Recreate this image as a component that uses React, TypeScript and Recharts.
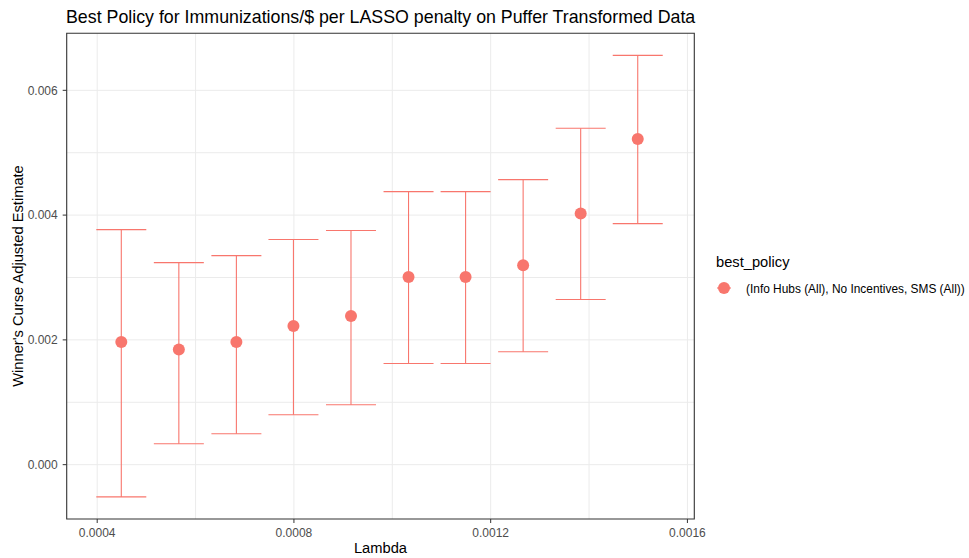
import React from 'react';
import { ComposedChart, Scatter, XAxis, YAxis, CartesianGrid, ErrorBar, ReferenceArea } from 'recharts';

const lambdas = [0.000449, 0.000566, 0.000683, 0.000799, 0.000916, 0.001033, 0.001149, 0.001266, 0.001383, 0.001499];
const estimates = [0.001965, 0.001846, 0.001965, 0.002221, 0.002381, 0.003006, 0.003006, 0.003198, 0.004024, 0.00522];
const lowerBounds = [-0.000517, 0.000336, 0.000496, 0.000801, 0.000961, 0.001622, 0.001622, 0.001809, 0.002647, 0.003864];
const upperBounds = [0.003768, 0.003239, 0.003351, 0.003608, 0.003752, 0.004376, 0.004376, 0.004568, 0.005392, 0.00656];

const xTicks = [0.0004, 0.0008, 0.0012, 0.0016];
const yTicks = [0, 0.002, 0.004, 0.006];
const xGridValues = [0.0004, 0.0006, 0.0008, 0.001, 0.0012, 0.0014, 0.0016];
const yGridValues = [0, 0.001, 0.002, 0.003, 0.004, 0.005, 0.006];
const xDomain = [0.000338, 0.001614];
const yDomain = [-0.000871, 0.006914];

const titleText = 'Best Policy for Immunizations/$ per LASSO penalty on Puffer Transformed Data';
const xTitle = 'Lambda';
const yTitle = "Winner's Curse Adjusted Estimate";
const legendTitle = 'best_policy';
const policyLabel = '(Info Hubs (All), No Incentives, SMS (All))';

const COLOR = '#F8766D';
const FONT = '"Liberation Sans", Arial, sans-serif';

const data = lambdas.map((l, i) => ({
  lambda: l,
  est: estimates[i],
  err: [estimates[i] - lowerBounds[i], upperBounds[i] - estimates[i]],
}));

const Dot = (props: any) => <circle cx={props.cx} cy={props.cy} r={6} fill={COLOR} />;

export default function App() {
  return (
    <div style={{ position: 'absolute', left: 0, top: 0, width: 969, height: 558, background: '#fff', fontFamily: FONT }}>
      <ComposedChart
        width={969}
        height={558}
        data={data}
        margin={{ top: 33.3, right: 274.7, left: 0, bottom: 0 }}
      >
        <CartesianGrid
          stroke="#EBEBEB"
          strokeWidth={1}
          horizontalValues={yGridValues}
          verticalValues={xGridValues}
        />
        <XAxis
          type="number"
          dataKey="lambda"
          domain={xDomain}
          allowDataOverflow
          ticks={xTicks}
          tickFormatter={(v: number) => String(v)}
          height={39}
          axisLine={false}
          tickSize={4}
          tickMargin={5}
          tickLine={{ stroke: '#333333' }}
          tick={{ fill: '#4D4D4D', fontSize: 12, fontFamily: FONT }}
        />
        <YAxis
          type="number"
          dataKey="est"
          domain={yDomain}
          allowDataOverflow
          ticks={yTicks}
          tickFormatter={(v: number) => v.toFixed(3)}
          width={66.7}
          axisLine={false}
          tickSize={4}
          tickMargin={5}
          tickLine={{ stroke: '#333333' }}
          tick={{ fill: '#4D4D4D', fontSize: 12, fontFamily: FONT }}
        />
        <ReferenceArea
          x1={xDomain[0]}
          x2={xDomain[1]}
          y1={yDomain[0]}
          y2={yDomain[1]}
          fill="none"
          fillOpacity={0}
          stroke="#333333"
          strokeWidth={1.1}
        />
        <Scatter dataKey="est" fill={COLOR} shape={Dot} isAnimationActive={false}>
          <ErrorBar dataKey="err" direction="y" width={25} stroke={COLOR} strokeWidth={1.1} isAnimationActive={false} />
        </Scatter>
      </ComposedChart>
      <svg width={969} height={558} style={{ position: 'absolute', left: 0, top: 0, pointerEvents: 'none' }} fontFamily={FONT}>
        <text x={66} y={23} fontSize={17.8} fill="#000">{titleText}</text>
        <text x={380.5} y={553} fontSize={14.7} fill="#000" textAnchor="middle">{xTitle}</text>
        <text x={23} y={276} fontSize={14.7} fill="#000" textAnchor="middle" transform="rotate(-90 23 276)">{yTitle}</text>
        <text x={716} y={267} fontSize={14.7} fill="#000">{legendTitle}</text>
        <line x1={717} y1={288} x2={731} y2={288} stroke={COLOR} strokeWidth={1.1} />
        <circle cx={724} cy={288} r={6} fill={COLOR} />
        <text x={746} y={292.5} fontSize={11.9} fill="#000">{policyLabel}</text>
      </svg>
    </div>
  );
}
